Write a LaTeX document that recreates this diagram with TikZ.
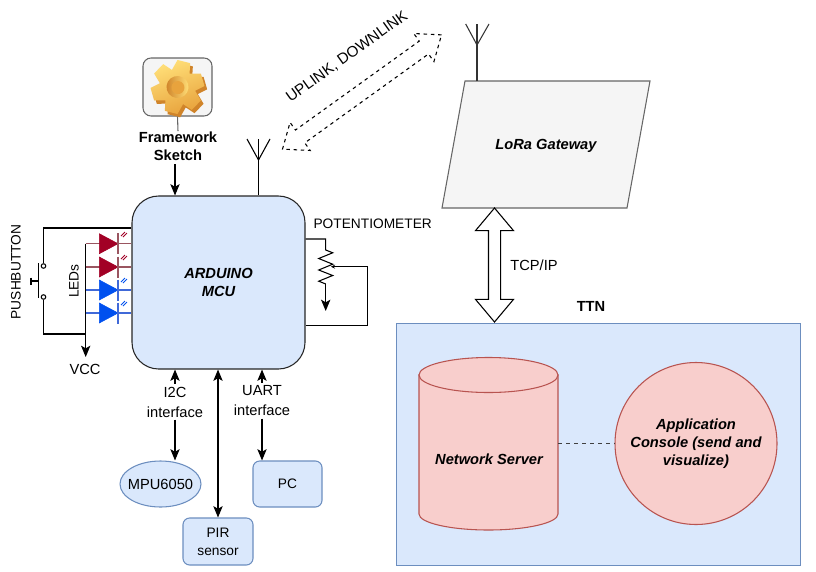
\documentclass[tikz,border=0pt]{standalone}
\usepackage{fontspec}
\setmainfont{Liberation Sans}
\usepackage{xcolor}
\usepackage{tikz}
\usetikzlibrary{arrows.meta,shapes.geometric,shapes.arrows}
\definecolor{bluefill}{HTML}{DAE8FC}
\definecolor{blueline}{HTML}{6C8EBF}
\definecolor{redfill}{HTML}{F8CECC}
\definecolor{redline}{HTML}{B85450}
\definecolor{grayfill}{HTML}{F5F5F5}
\definecolor{grayline}{HTML}{666666}
\definecolor{ledred}{HTML}{A20025}
\definecolor{ledblue}{HTML}{0050EF}
\definecolor{wirered}{HTML}{9A5560}
\definecolor{wireblue}{HTML}{4069D8}
\definecolor{gearlight}{HTML}{FFDF78}
\definecolor{geardark}{HTML}{E8A33D}
\definecolor{gearedge}{HTML}{D0842A}

\begin{document}
\begin{tikzpicture}[x=0.75pt,y=0.75pt,line width=0.8pt,
  >={Stealth[length=8.5pt,width=7pt,inset=2pt]}]
\tikzstyle{every node}+=[inner sep=0pt,align=center,font=\fontsize{10.3}{13.5}\selectfont]
\tikzstyle{bigtext}=[font=\fontsize{11}{15}\selectfont]
\tikzstyle{boldtext}=[font=\fontsize{11}{13.5}\selectfont\bfseries]
\tikzstyle{bolditalic}=[font=\fontsize{11}{13.5}\selectfont\bfseries\itshape]
\tikzstyle{busname}=[fill=white,inner sep=1.5pt,bigtext]
\tikzstyle{bluebox}=[draw=blueline,fill=bluefill,rounded corners=5pt]
\tikzstyle{contact}=[draw,fill=white,circle,minimum size=3.4pt]
\tikzstyle{redled}=[draw=ledred,fill=ledred,line width=0.4pt]
\tikzstyle{blueled}=[draw=ledblue,fill=ledblue,line width=0.4pt]
\useasboundingbox (0,0) rectangle (816,-571);

\node [draw=black!85,fill=bluefill,rounded corners=20pt,minimum width=129.75pt,minimum height=129.75pt,bolditalic] (mcu) at (218.5,-282.5) {ARDUINO\\MCU};
\node [draw=grayline,fill=grayfill,rounded corners=6pt,minimum width=51.75pt,minimum height=43.5pt] (sketchbox) at (177.5,-87) {};
\begin{scope}[shift={(sketchbox.center)},rotate=-6]
\fill [gearedge,shift={(3,-3)}] (-6:18) -- (8:27) -- (36:27) -- (54:18) -- (68:27) -- (96:27) -- (114:18) -- (128:27) -- (156:27) -- (174:18) -- (188:27) -- (216:27) -- (234:18) -- (248:27) -- (276:27) -- (294:18) -- (308:27) -- (336:27) -- cycle;
\shade [left color=gearlight,right color=geardark,shading angle=20] (-6:18) -- (8:27) -- (36:27) -- (54:18) -- (68:27) -- (96:27) -- (114:18) -- (128:27) -- (156:27) -- (174:18) -- (188:27) -- (216:27) -- (234:18) -- (248:27) -- (276:27) -- (294:18) -- (308:27) -- (336:27) -- cycle;
\shade [left color=gearedge,right color=gearlight] (0,0) circle (11);
\fill [geardark] (0.5,-0.5) circle (6.5);
\end{scope}
\node [boldtext] (sketch) at (178,-146) {Framework\\Sketch};
\coordinate (sketchend) at (175,-164);
\draw [grayline] (sketchbox.south) -- (sketch.north);
\draw [->] (sketchend) -- (mcu.north -| sketchend);

\coordinate (antleft) at (258.5,-160);
\coordinate (antleftl) at (247,-139);
\coordinate (antleftr) at (270,-139);
\coordinate (antleftm) at (258.5,-139);
\draw (mcu.north -| antleft) -- (antleft);
\draw (antleftl) -- (antleft) -- (antleftr);
\draw (antleftm) -- (antleft);

\node [draw,dash pattern=on 2.6pt off 2.8pt,double arrow,minimum height=146.85pt,inner ysep=5.55pt,double arrow head extend=7pt,double arrow tip angle=77,rotate=35.7] (radiolink) at (362,-92) {};
\node [rotate=35.7,font=\fontsize{11.4}{13.5}\selectfont] (radiotext) at (347,-57) {UPLINK, DOWNLINK};

\draw [draw=grayline,fill=grayfill] (465,-81) -- (650,-81) -- (627,-208) -- (442,-208) -- cycle;
\node [bolditalic] (gateway) at (546,-146) {LoRa Gateway};
\coordinate (antgw) at (477,-45);
\coordinate (antgwbase) at (477,-81);
\coordinate (antgwl) at (465.7,-24);
\coordinate (antgwr) at (489,-24);
\coordinate (antgwm) at (477,-24);
\draw [black!80] (antgwbase) -- (antgw);
\draw [black!80] (antgwl) -- (antgw) -- (antgwr);
\draw [black!80] (antgwm) -- (antgw);

\node [draw=blueline,fill=bluefill,line width=0.7pt,minimum width=302.6pt,minimum height=181.5pt] (ttn) at (598.25,-444) {};
\node [boldtext] (ttntext) at (591,-306) {TTN};
\node [draw,fill=white,double arrow,rotate=90,minimum height=85.5pt,inner ysep=4.125pt,double arrow head extend=9.75pt,double arrow tip angle=80] (tcp) at (494.5,-265) {};
\node [bigtext] (tcptext) at (534,-265) {TCP/IP};

\filldraw [draw=redline,fill=redfill] (419,-375) -- (419,-514) arc (180:360:69.5 and 16) -- (558,-375) -- cycle;
\filldraw [draw=redline,fill=redfill] (488.5,-375) ellipse (69.5 and 17.5);
\node [bolditalic] (server) at (489,-459) {Network Server};
\coordinate (serverside) at (558,-443.5);
\node [draw=redline,fill=redfill,circle,minimum size=121.5pt,bolditalic] (app) at (696,-443.5) {Application\\Console (send and\\visualize)};
\draw [dashed,black!75] (serverside) -- (app);

\node [draw=blueline,fill=bluefill,ellipse,minimum width=60.75pt,minimum height=34.5pt] (mpu) at (160.5,-484) {};
\node [bigtext] (mputext) at (160.5,-484) {MPU6050};
\node [bluebox,minimum width=51.75pt,minimum height=34.5pt] (pc) at (287.5,-484) {PC};
\node [bluebox,minimum width=52.5pt,minimum height=35.25pt] (pir) at (218,-541.5) {PIR\\sensor};
\node [busname] (i2c) at (175,-402) {I2C\\interface};
\node [busname] (uart) at (262,-401) {UART\\interface};
\draw [<-] (mcu.south -| i2c) -- (i2c);
\draw [->] (i2c) -- (mpu.north -| i2c);
\draw [<-] (mcu.south -| uart) -- (uart);
\draw [->] (uart) -- (pc.north -| uart);
\draw [<->] (mcu.south -| pir) -- (pir);

\node (pottext) at (372.7,-224) {POTENTIOMETER};
\coordinate (potin) at (325.7,-239);
\coordinate (zigtop) at (325.7,-250);
\coordinate (zigend) at (325.7,-284);
\coordinate (potout) at (325.7,-311);
\coordinate (wiperc) at (367.7,-325.7);
\coordinate (wipert) at (367.7,-266.7);
\coordinate (wiper) at (331,-266.7);
\draw (mcu.east |- potin) -- (potin) -- (zigtop) -- (332.7,-252.8) -- (318.7,-258.5) -- (332.7,-264.2) -- (318.7,-270) -- (332.7,-275.5) -- (318.7,-281.2) -- (zigend);
\draw [->] (zigend) -- (potout);
\draw [-{Stealth[length=3pt,width=3pt]}] (mcu.east |- wiperc) -- (wiperc) -- (wipert) -- (wiper);

\node [rotate=90] (pbtext) at (16,-272) {PUSHBUTTON};
\node [rotate=90] (ledtext) at (74,-281) {LEDs};
\node [bigtext] (vcc) at (85,-369) {VCC};
\node [contact] (swa) at (43.5,-266) {};
\node [contact] (swb) at (43.5,-297) {};
\coordinate (pbtop) at (43.5,-228);
\coordinate (pbbot) at (43.5,-334);
\coordinate (leda) at (85.7,-243.7);
\coordinate (ledb) at (85.7,-267);
\coordinate (ledc) at (85.7,-290);
\coordinate (ledd) at (85.7,-313);
\coordinate (vccjoin) at (85.7,-334);
\coordinate (vcctip) at (85.7,-357);
\draw (mcu.west |- pbtop) -- (pbtop) -- (swa);
\draw (swb) -- (pbbot) -- (vccjoin);
\draw [->] (leda) -- (vcctip);
\draw (38.7,-263) -- (38.7,-298);
\draw (38.7,-281) -- (31,-281);
\draw (31,-277.5) -- (31,-284.5);

\draw [wirered] (leda) -- (mcu.west |- leda);
\draw [wirered] (ledb) -- (mcu.west |- ledb);
\draw [wireblue] (ledc) -- (mcu.west |- ledc);
\draw [wireblue] (ledd) -- (mcu.west |- ledd);
\filldraw [redled] (99.3,-233.7) -- (118,-243.7) -- (99.3,-253.7) -- cycle;
\filldraw [redled] (99.3,-257) -- (118,-267) -- (99.3,-277) -- cycle;
\filldraw [blueled] (99.3,-280) -- (118,-290) -- (99.3,-300) -- cycle;
\filldraw [blueled] (99.3,-303) -- (118,-313) -- (99.3,-323) -- cycle;
\draw [wirered] (118,-233) -- (118,-254);
\draw [wirered] (118,-256.5) -- (118,-277.5);
\draw [wireblue] (118,-279.5) -- (118,-300.5);
\draw [wireblue] (118,-302.5) -- (118,-323.5);
\draw [ledred,line width=0.6pt] (121,-236) -- (125,-232);
\draw [ledred,line width=0.6pt] (123,-237) -- (127,-233);
\draw [ledred,line width=0.6pt] (121,-259) -- (125,-255);
\draw [ledred,line width=0.6pt] (123,-260) -- (127,-256);
\draw [ledblue,line width=0.6pt] (121,-282) -- (125,-278);
\draw [ledblue,line width=0.6pt] (123,-283) -- (127,-279);
\draw [ledblue,line width=0.6pt] (121,-305) -- (125,-301);
\draw [ledblue,line width=0.6pt] (123,-306) -- (127,-302);
\end{tikzpicture}
\end{document}
